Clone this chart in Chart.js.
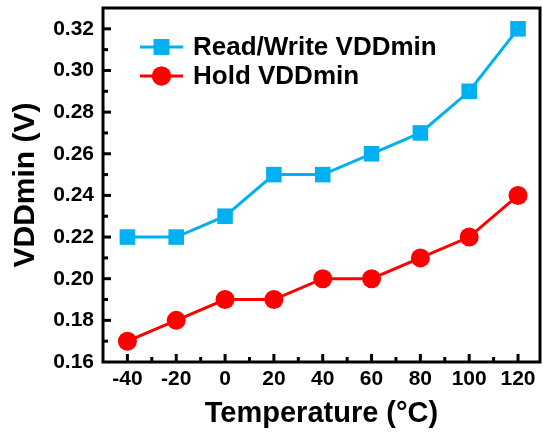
<!DOCTYPE html>
<html lang="en">
<head>
    <meta charset="UTF-8">
    <title>VDDmin vs Temperature</title>
    <script src="https://cdn.jsdelivr.net/npm/chart.js"></script>
    <style>
        html, body { margin: 0; padding: 0; background: #fff; }
        #wrap { width: 543px; height: 439px; }
    </style>
</head>
<body>
    <div id="wrap"><canvas id="vddChart" width="543" height="439"></canvas></div>
    <script>
        // Temperature sweep (°C)
        const temperatures = [-40, -20, 0, 20, 40, 60, 80, 100, 120];
        // Minimum supply voltages (V)
        const readWriteVddmin = [0.22, 0.22, 0.23, 0.25, 0.25, 0.26, 0.27, 0.29, 0.32];
        const holdVddmin = [0.17, 0.18, 0.19, 0.19, 0.20, 0.20, 0.21, 0.22, 0.24];
        const seriesNames = ['Read/Write VDDmin', 'Hold VDDmin'];

        const FONT = "'Liberation Sans', Arial, sans-serif";
        const CYAN = '#00b0f0';
        const RED = '#ff0000';

        // Closed black frame plus inward-pointing major/minor tick marks
        const framePlugin = {
            id: 'frame',
            beforeDatasetsDraw(chart) {
                const { ctx, chartArea: a, scales } = chart;
                ctx.save();
                ctx.strokeStyle = '#000';
                ctx.lineWidth = 3;
                ctx.strokeRect(a.left, a.top, a.right - a.left, a.bottom - a.top);

                scales.x.ticks.forEach(t => {
                    const px = scales.x.getPixelForValue(t.value);
                    if (px <= a.left + 1 || px >= a.right - 1) return;
                    const len = t.value % 20 === 0 ? 8 : 5;
                    ctx.beginPath();
                    ctx.moveTo(px, a.bottom);
                    ctx.lineTo(px, a.bottom - len);
                    ctx.stroke();
                });
                scales.y.ticks.forEach(t => {
                    const py = scales.y.getPixelForValue(t.value);
                    if (py <= a.top + 1 || py >= a.bottom - 1) return;
                    const len = Math.round(t.value * 100) % 2 === 0 ? 8 : 5;
                    ctx.beginPath();
                    ctx.moveTo(a.left, py);
                    ctx.lineTo(a.left + len, py);
                    ctx.stroke();
                });
                ctx.restore();
            }
        };

        // Legend inside the plot: line segment with the series marker, then the name
        const insideLegend = {
            id: 'insideLegend',
            afterDraw(chart) {
                const { ctx, chartArea: a } = chart;
                ctx.save();
                chart.data.datasets.forEach((ds, i) => {
                    const y = a.top + 39 + i * 29;
                    const x0 = a.left + 37;
                    const x1 = a.left + 80;
                    const xm = (x0 + x1) / 2;
                    ctx.strokeStyle = ds.borderColor;
                    ctx.lineWidth = ds.borderWidth;
                    ctx.beginPath();
                    ctx.moveTo(x0, y);
                    ctx.lineTo(x1, y);
                    ctx.stroke();
                    ctx.fillStyle = ds.pointBackgroundColor;
                    Chart.helpers.drawPoint(ctx, {
                        pointStyle: ds.pointStyle,
                        radius: ds.pointRadius,
                        borderWidth: 0
                    }, xm, y);
                    ctx.fill();
                    ctx.fillStyle = '#000';
                    ctx.font = 'bold 26px ' + FONT;
                    ctx.textBaseline = 'middle';
                    ctx.textAlign = 'left';
                    ctx.fillText(ds.label, a.left + 90, y + 1);
                });
                ctx.restore();
            }
        };

        const ctx = document.getElementById('vddChart').getContext('2d');
        new Chart(ctx, {
            type: 'line',
            data: {
                datasets: [{
                    label: seriesNames[0],
                    data: temperatures.map((t, i) => ({ x: t, y: readWriteVddmin[i] })),
                    borderColor: CYAN,
                    backgroundColor: CYAN,
                    pointBackgroundColor: CYAN,
                    pointBorderColor: CYAN,
                    borderWidth: 3,
                    pointStyle: 'rect',
                    pointRadius: 11,
                    pointBorderWidth: 0,
                    tension: 0
                }, {
                    label: seriesNames[1],
                    data: temperatures.map((t, i) => ({ x: t, y: holdVddmin[i] })),
                    borderColor: RED,
                    backgroundColor: RED,
                    pointBackgroundColor: RED,
                    pointBorderColor: RED,
                    borderWidth: 3,
                    pointStyle: 'circle',
                    pointRadius: 9.5,
                    pointBorderWidth: 0,
                    tension: 0
                }]
            },
            options: {
                responsive: false,
                animation: false,
                layout: {
                    autoPadding: false,
                    padding: { top: 8, right: 3, left: 0, bottom: 0 }
                },
                plugins: {
                    legend: { display: false },
                    tooltip: { enabled: false }
                },
                scales: {
                    x: {
                        type: 'linear',
                        min: -50,
                        max: 129,
                        afterFit(scale) {
                            scale.height = 77;
                            scale.paddingLeft = 0;
                            scale.paddingRight = 0;
                        },
                        grid: { display: false, drawTicks: false },
                        border: { display: false },
                        ticks: {
                            stepSize: 10,
                            includeBounds: false,
                            autoSkip: false,
                            maxRotation: 0,
                            padding: 5,
                            color: '#000',
                            font: { family: FONT, size: 21, weight: 'bold' },
                            callback: v => (v % 20 === 0 ? String(v) : '')
                        },
                        title: {
                            display: true,
                            text: 'Temperature (°C)',
                            color: '#000',
                            font: { family: FONT, size: 29, weight: 'bold' },
                            padding: { top: 0, bottom: 8 }
                        }
                    },
                    y: {
                        type: 'linear',
                        min: 0.16,
                        max: 0.33,
                        afterFit(scale) {
                            scale.width = 103;
                            scale.paddingTop = 0;
                            scale.paddingBottom = 0;
                        },
                        grid: { display: false, drawTicks: false },
                        border: { display: false },
                        ticks: {
                            stepSize: 0.01,
                            includeBounds: false,
                            autoSkip: false,
                            padding: 9,
                            color: '#000',
                            font: { family: FONT, size: 21, weight: 'bold' },
                            callback: v => (Math.round(v * 100) % 2 === 0 ? v.toFixed(2) : '')
                        },
                        title: {
                            display: true,
                            text: 'VDDmin (V)',
                            color: '#000',
                            font: { family: FONT, size: 30, weight: 'bold' },
                            padding: { top: 8, bottom: 0 }
                        }
                    }
                }
            },
            plugins: [framePlugin, insideLegend]
        });
    </script>
</body>
</html>
